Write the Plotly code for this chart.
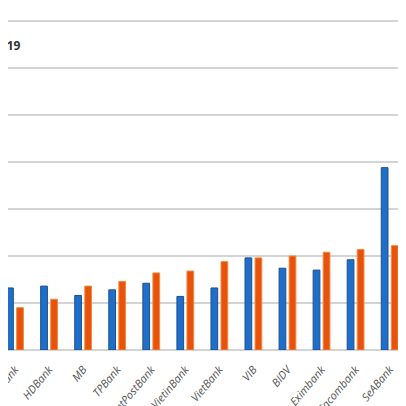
import plotly.graph_objects as go

banks = ["VPBank", "HDBank", "MB", "TPBank", "LienVietPostBank", "VietinBank",
         "VietBank", "VIB", "BIDV", "Eximbank", "Sacombank", "SeABank"]
series_a = [0.66, 0.68, 0.58, 0.64, 0.71, 0.57, 0.66, 0.98, 0.87, 0.85, 0.96, 1.94]
series_b = [0.45, 0.54, 0.68, 0.73, 0.82, 0.84, 0.94, 0.98, 1.00, 1.04, 1.07, 1.11]
y_ticks = [0, 0.5, 1.0, 1.5, 2.0, 2.5, 3.0, 3.5]

fig = go.Figure()
fig.add_trace(go.Bar(x=banks, y=series_a, name="2018",
                     marker=dict(color="#1f6fc9", line=dict(color="#1d4f8f", width=1))))
fig.add_trace(go.Bar(x=banks, y=series_b, name="2019",
                     marker=dict(color="#e8520c", line=dict(color="#f08a3c", width=1))))

fig.update_layout(
    width=398, height=398,
    margin=dict(l=0, r=0, t=11, b=56, autoexpand=False),
    paper_bgcolor="#ffffff", plot_bgcolor="#ffffff",
    barmode="group", bargap=0.41, bargroupgap=0.33,
    showlegend=False,
    font=dict(family="Open Sans, Liberation Sans, sans-serif"),
    xaxis=dict(range=[-0.2055, 11.48], tickangle=-50, showgrid=False, showline=False,
               automargin=False, ticks="", ticklabelstandoff=10,
               tickfont=dict(size=11, color="#555555", style="italic")),
    yaxis=dict(range=[0, 3.5213], tickvals=y_ticks, showticklabels=False,
               automargin=False,
               gridcolor="#d4d4d4", gridwidth=1.5, zeroline=True,
               zerolinecolor="#d4d4d4", zerolinewidth=1.5, showline=False),
    annotations=[dict(text="<b>2019</b>", xref="paper", yref="paper", x=0, y=1.0,
                      xanchor="right", yanchor="middle", xshift=15, yshift=-26,
                      showarrow=False, font=dict(size=12, color="#333333"))],
)

fig.write_html("out.html")
